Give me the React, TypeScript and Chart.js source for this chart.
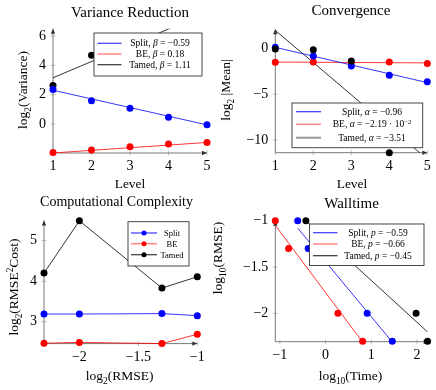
import { useEffect, useRef } from 'react';
import { Chart, registerables } from 'chart.js';
Chart.register(...registerables);

const SERIF = '"Liberation Serif", "DejaVu Serif", serif';
const W = 436;
const H = 390;
const YW = 40;
const XH = 30;

// ---------- data ----------
const levels = [1, 2, 3, 4, 5];
// Variance Reduction
const varSplit = [2.36, 1.59, 1.07, 0.46, -0.05];
const varBE = [-1.95, -1.77, -1.56, -1.36, -1.27];
const varTamed = [2.63, 4.69, null, null, null];
const varFitX = [1, 5];
const varFitSplit = [2.3, -0.06];
const varFitBE = [-1.98, -1.26];
const varFitTamed = [3.15, 7.59];
const varXTicks = [1, 2, 3, 4, 5];
const varXLabels = ['1', '2', '3', '4', '5'];
const varYTicks = [0, 2, 4, 6];
const varYLabels = ['0', '2', '4', '6'];
// Convergence
const meanSplit = [0.1, -0.84, -1.93, -2.95, -3.64];
const meanBE = [-1.53, -1.49, -1.55, -1.49, -1.67];
const meanTamed = [-0.07, -0.15, -1.38, -11.38, null];
const meanFitX = [1, 5];
const meanFitSplit = [0.1, -3.74];
const meanFitBE = [-1.5, -1.59];
const meanFitTamed = [1.95, -12.09];
const meanXTicks = [1, 2, 3, 4, 5];
const meanXLabels = ['1', '2', '3', '4', '5'];
const meanYTicks = [-10, -5, 0];
const meanYLabels = ['\u221210', '\u22125', '0'];
// Computational Complexity
const rmseLog = [-2.3, -2, -1.3, -1];
const costSplit = [3.19, 3.19, 3.2, 3.15];
const costBE = [2.47, 2.49, 2.46, 2.69];
const costTamed = [4.2, 5.49, 3.83, 4.11];
const costXTicks = [-2, -1.5, -1];
const costXLabels = ['\u22122', '\u22121.5', '\u22121'];
const costYTicks = [3, 4, 5];
const costYLabels = ['3', '4', '5'];
// Walltime
const wallRmse = [-1, -1.3, -2, -2.3];
const timeSplit = [-0.61, -0.38, 0.91, 1.46];
const timeBE = [-1.1, -0.81, 0.27, 0.81];
const timeTamed = [-0.43, 0.5, 1.98, 2.23];
const wallFitSplitX = [-0.61, 1.46];
const wallFitSplitY = [-1.08, -2.31];
const wallFitBEX = [-1.1, 0.81];
const wallFitBEY = [-1.05, -2.31];
const wallFitTamedX = [-0.43, 2.23];
const wallFitTamedY = [-1.0, -2.2];
const wallXTicks = [-1, 0, 1, 2];
const wallXLabels = ['\u22121', '0', '1', '2'];
const wallYTicks = [-2, -1.5, -1];
const wallYLabels = ['\u22122', '\u22121.5', '\u22121'];

const BLUE = '#0000ff';
const RED = '#ff0000';
const BLACK = '#000000';

type Part = [string, string?];

function fontFor(size: number, mode?: string) {
  const s = mode === 'sub' || mode === 'sup' ? size * 0.7 : size;
  return (mode === 'i' ? 'italic ' : '') + s + 'px ' + SERIF;
}

function drawRich(ctx: CanvasRenderingContext2D, parts: Part[], x: number, y: number, size: number, align = 'center', rot = 0) {
  ctx.save();
  ctx.translate(x, y);
  if (rot) ctx.rotate(rot);
  ctx.textBaseline = 'alphabetic';
  ctx.textAlign = 'left';
  ctx.fillStyle = '#000';
  let total = 0;
  const widths = parts.map(([t, m]) => {
    ctx.font = fontFor(size, m);
    const w = ctx.measureText(t).width;
    total += w;
    return w;
  });
  let cx = align === 'center' ? -total / 2 : align === 'right' ? -total : 0;
  parts.forEach(([t, m], i) => {
    ctx.font = fontFor(size, m);
    const dy = m === 'sub' ? size * 0.28 : m === 'sup' ? -size * 0.4 : 0;
    ctx.fillText(t, cx, dy);
    cx += widths[i];
  });
  ctx.restore();
}

const pts = (xs: number[], ys: (number | null)[]) =>
  xs.map((x, i) => ({ x, y: ys[i] })).filter((p) => p.y !== null);

const pointDs = (data: any[], color: string, order: number) => ({
  data, showLine: false, pointRadius: 3.5, pointBackgroundColor: color, pointBorderColor: color,
  pointBorderWidth: 0, clip: false, order,
});
const lineDs = (data: any[], color: string, order: number) => ({
  data, showLine: true, pointRadius: 0, borderColor: color, borderWidth: 0.8, order,
});
const markLineDs = (data: any[], color: string, order: number) => ({
  data, showLine: true, pointRadius: 3.5, pointBackgroundColor: color, pointBorderColor: color,
  pointBorderWidth: 0, borderColor: color, borderWidth: 0.8, clip: false, order,
});

interface LegendEntry { color: string; width: number; marker?: string; parts: Part[] }
interface PanelCfg {
  area: { l: number; r: number; t: number; b: number };
  x: { min: number; max: number; ticks: number[]; labels: string[] };
  y: { min: number; max: number; ticks: number[]; labels: string[] };
  datasets: any[];
  title: { parts: Part[]; x: number; y: number; size: number };
  xLabel: { parts: Part[]; x: number; y: number };
  yLabel: { parts: Part[]; x: number; y: number };
  legend: { box: [number, number, number, number]; lineX: [number, number]; textX: number; rows: number[]; size: number; entries: LegendEntry[] };
}

const panels: PanelCfg[] = [
  {
    area: { l: 53, r: 207, t: 28.7, b: 153 },
    x: { min: 1, max: 5, ticks: varXTicks, labels: varXLabels },
    y: { min: -1.98, max: 6.5, ticks: varYTicks, labels: varYLabels },
    datasets: [
      pointDs(pts(levels, varSplit), BLUE, 1),
      pointDs(pts(levels, varBE), RED, 2),
      pointDs(pts(levels, varTamed), BLACK, 3),
      lineDs(pts(varFitX, varFitSplit), BLUE, 4),
      lineDs(pts(varFitX, varFitBE), RED, 5),
      lineDs(pts(varFitX, varFitTamed), BLACK, 6),
    ],
    title: { parts: [['Variance Reduction']], x: 130, y: 16.5, size: 15 },
    xLabel: { parts: [['Level']], x: 130, y: 188 },
    yLabel: { parts: [['log'], ['2', 'sub'], ['(Variance)']], x: 27, y: 90 },
    legend: {
      box: [94, 33, 202, 76], lineX: [97.5, 121.5], textX: 160, rows: [43.3, 54, 64.7], size: 9.5,
      entries: [
        { color: '#3a3aff', width: 1.2, parts: [['Split, '], ['\u03b2', 'i'], [' = \u22120.59']] },
        { color: '#ff8c8c', width: 1.6, parts: [['BE, '], ['\u03b2', 'i'], [' = 0.18']] },
        { color: '#333333', width: 1.2, parts: [['Tamed, '], ['\u03b2', 'i'], [' = 1.11']] },
      ],
    },
  },
  {
    area: { l: 275.3, r: 427.3, t: 29.3, b: 152.7 },
    x: { min: 1, max: 5, ticks: meanXTicks, labels: meanXLabels },
    y: { min: -11.38, max: 2.07, ticks: meanYTicks, labels: meanYLabels },
    datasets: [
      pointDs(pts(levels, meanTamed), BLACK, 1),
      pointDs(pts(levels, meanSplit), BLUE, 2),
      pointDs(pts(levels, meanBE), RED, 3),
      lineDs(pts(meanFitX, meanFitSplit), BLUE, 4),
      lineDs(pts(meanFitX, meanFitBE), RED, 5),
      lineDs(pts(meanFitX, meanFitTamed), BLACK, 6),
    ],
    title: { parts: [['Convergence']], x: 351, y: 15, size: 15 },
    xLabel: { parts: [['Level']], x: 352, y: 188 },
    yLabel: { parts: [['log'], ['2', 'sub'], [' |Mean|']], x: 230, y: 90 },
    legend: {
      box: [292, 103, 422.7, 147.7], lineX: [296, 321], textX: 372, rows: [111.7, 124.3, 137.7], size: 9.5,
      entries: [
        { color: '#3a3aff', width: 1.2, parts: [['Split, '], ['\u03b1', 'i'], [' = \u22120.96']] },
        { color: '#ff8c8c', width: 1.6, parts: [['BE, '], ['\u03b1', 'i'], [' = \u22122.19 \u00b7 10'], ['\u22122', 'sup']] },
        { color: '#999999', width: 2, parts: [['Tamed, '], ['\u03b1', 'i'], [' = \u22123.51']] },
      ],
    },
  },
  {
    area: { l: 44, r: 197.3, t: 220.4, b: 343.6 },
    x: { min: -2.3, max: -1, ticks: costXTicks, labels: costXLabels },
    y: { min: 2.46, max: 5.5, ticks: costYTicks, labels: costYLabels },
    datasets: [
      markLineDs(pts(rmseLog, costSplit), BLUE, 1),
      markLineDs(pts(rmseLog, costBE), RED, 2),
      markLineDs(pts(rmseLog, costTamed), BLACK, 3),
    ],
    title: { parts: [['Computational Complexity']], x: 116.5, y: 205.5, size: 14 },
    xLabel: { parts: [['log'], ['2', 'sub'], ['(RMSE)']], x: 119.7, y: 380 },
    yLabel: { parts: [['log'], ['2', 'sub'], ['(RMSE'], ['2', 'sup'], ['Cost)']], x: 18, y: 287 },
    legend: {
      box: [128, 221.7, 189, 266], lineX: [131, 157], textX: 172, rows: [233, 243.7, 254.7], size: 8.5,
      entries: [
        { color: '#3a3aff', width: 1.2, marker: BLUE, parts: [['Split']] },
        { color: '#ff8c8c', width: 1.6, marker: RED, parts: [['BE']] },
        { color: '#333333', width: 1.2, marker: BLACK, parts: [['Tamed']] },
      ],
    },
  },
  {
    area: { l: 275.3, r: 428.7, t: 220.7, b: 341.7 },
    x: { min: -1.1, max: 2.256, ticks: wallXTicks, labels: wallXLabels },
    y: { min: -2.306, max: -1, ticks: wallYTicks, labels: wallYLabels },
    datasets: [
      pointDs(pts(timeSplit, wallRmse), BLUE, 1),
      pointDs(pts(timeBE, wallRmse), RED, 2),
      pointDs(pts(timeTamed, wallRmse), BLACK, 3),
      lineDs(pts(wallFitSplitX, wallFitSplitY), BLUE, 4),
      lineDs(pts(wallFitBEX, wallFitBEY), RED, 5),
      lineDs(pts(wallFitTamedX, wallFitTamedY), BLACK, 6),
    ],
    title: { parts: [['Walltime']], x: 351.5, y: 207.5, size: 15 },
    xLabel: { parts: [['log'], ['10', 'sub'], ['(Time)']], x: 350.5, y: 380 },
    yLabel: { parts: [['log'], ['10', 'sub'], ['(RMSE)']], x: 222, y: 258 },
    legend: {
      box: [309.5, 224, 424, 265.5], lineX: [313, 337.5], textX: 378, rows: [232.7, 244, 255.7], size: 9.5,
      entries: [
        { color: '#3a3aff', width: 1.2, parts: [['Split, '], ['p', 'i'], [' = \u22120.59']] },
        { color: '#ff8c8c', width: 1.6, parts: [['BE, '], ['p', 'i'], [' = \u22120.66']] },
        { color: '#333333', width: 1.2, parts: [['Tamed, '], ['p', 'i'], [' = \u22120.45']] },
      ],
    },
  },
];

function arrowLine(ctx: CanvasRenderingContext2D, x1: number, y1: number, x2: number, y2: number) {
  ctx.save();
  ctx.strokeStyle = '#6a6a6a';
  ctx.lineWidth = 0.9;
  ctx.beginPath();
  ctx.moveTo(x1, y1);
  ctx.lineTo(x2, y2);
  ctx.stroke();
  const a = Math.atan2(y2 - y1, x2 - x1);
  const len = 5, hw = 2.2;
  ctx.fillStyle = '#333';
  ctx.beginPath();
  ctx.moveTo(x2, y2);
  ctx.lineTo(x2 - len * Math.cos(a) + hw * Math.sin(a), y2 - len * Math.sin(a) - hw * Math.cos(a));
  ctx.lineTo(x2 - len * Math.cos(a) - hw * Math.sin(a), y2 - len * Math.sin(a) + hw * Math.cos(a));
  ctx.closePath();
  ctx.fill();
  ctx.restore();
}

function makeDecor(cfg: PanelCfg) {
  return {
    id: 'decor',
    beforeDatasetsDraw(chart: any) {
      const ctx = chart.ctx as CanvasRenderingContext2D;
      const { left, right, top, bottom } = chart.chartArea;
      const xs = chart.scales.x, ys = chart.scales.y;
      ctx.save();
      ctx.strokeStyle = '#b5b5b5';
      ctx.lineWidth = 0.8;
      cfg.x.ticks.forEach((v) => {
        const px = xs.getPixelForValue(v);
        ctx.beginPath(); ctx.moveTo(px, bottom - 2.5); ctx.lineTo(px, bottom + 2.5); ctx.stroke();
      });
      cfg.y.ticks.forEach((v) => {
        const py = ys.getPixelForValue(v);
        ctx.beginPath(); ctx.moveTo(left - 2.5, py); ctx.lineTo(left + 2.5, py); ctx.stroke();
      });
      ctx.restore();
      arrowLine(ctx, left, bottom, right, bottom);
      arrowLine(ctx, left, bottom, left, top);
    },
    afterDraw(chart: any) {
      const ctx = chart.ctx as CanvasRenderingContext2D;
      drawRich(ctx, cfg.title.parts, cfg.title.x, cfg.title.y, cfg.title.size);
      drawRich(ctx, cfg.xLabel.parts, cfg.xLabel.x, cfg.xLabel.y, 13.5);
      drawRich(ctx, cfg.yLabel.parts, cfg.yLabel.x, cfg.yLabel.y, 13.5, 'center', -Math.PI / 2);
      const lg = cfg.legend;
      const [bl, bt, br, bb] = lg.box;
      ctx.save();
      ctx.fillStyle = '#ffffff';
      ctx.fillRect(bl, bt, br - bl, bb - bt);
      ctx.strokeStyle = '#333333';
      ctx.lineWidth = 0.9;
      ctx.strokeRect(bl, bt, br - bl, bb - bt);
      lg.entries.forEach((e, i) => {
        const ry = lg.rows[i];
        ctx.strokeStyle = e.color;
        ctx.lineWidth = e.width;
        ctx.beginPath(); ctx.moveTo(lg.lineX[0], ry); ctx.lineTo(lg.lineX[1], ry); ctx.stroke();
        if (e.marker) {
          ctx.fillStyle = e.marker;
          ctx.beginPath(); ctx.arc((lg.lineX[0] + lg.lineX[1]) / 2, ry, 2.5, 0, Math.PI * 2); ctx.fill();
        }
        drawRich(ctx, e.parts, lg.textX, ry + lg.size * 0.33, lg.size);
      });
      ctx.restore();
    },
  };
}

function Panel({ cfg }: { cfg: PanelCfg }) {
  const ref = useRef<HTMLCanvasElement>(null);
  useEffect(() => {
    if (!ref.current) return;
    const tickFont = { family: SERIF, size: 14 };
    const chart = new Chart(ref.current, {
      type: 'scatter',
      data: { datasets: cfg.datasets },
      options: {
        animation: false,
        responsive: false,
        devicePixelRatio: 1,
        events: [],
        layout: {
          autoPadding: false,
          padding: { left: cfg.area.l - YW, right: W - cfg.area.r, top: cfg.area.t, bottom: H - cfg.area.b - XH },
        },
        plugins: { legend: { display: false }, title: { display: false }, tooltip: { enabled: false } },
        scales: {
          x: {
            type: 'linear', min: cfg.x.min, max: cfg.x.max,
            afterFit: (s: any) => { s.height = XH; },
            afterBuildTicks: (s: any) => { s.ticks = cfg.x.ticks.map((v) => ({ value: v })); },
            ticks: { autoSkip: false, maxRotation: 0, padding: 5, font: tickFont, color: '#000', callback: (_v: any, i: number) => cfg.x.labels[i] },
            grid: { display: false, drawTicks: false },
            border: { display: false },
          },
          y: {
            type: 'linear', min: cfg.y.min, max: cfg.y.max,
            afterFit: (s: any) => { s.width = YW; },
            afterBuildTicks: (s: any) => { s.ticks = cfg.y.ticks.map((v) => ({ value: v })); },
            ticks: { autoSkip: false, padding: 7, font: tickFont, color: '#000', callback: (_v: any, i: number) => cfg.y.labels[i] },
            grid: { display: false, drawTicks: false },
            border: { display: false },
          },
        },
      } as any,
      plugins: [makeDecor(cfg)],
    });
    return () => chart.destroy();
  }, [cfg]);
  return <canvas ref={ref} width={W} height={H} style={{ position: 'absolute', left: 0, top: 0, width: W, height: H }} />;
}

export default function App() {
  return (
    <div style={{ position: 'fixed', left: 0, top: 0, width: W, height: H, background: '#fff', overflow: 'hidden' }}>
      {panels.map((p, i) => (
        <Panel key={i} cfg={p} />
      ))}
    </div>
  );
}
